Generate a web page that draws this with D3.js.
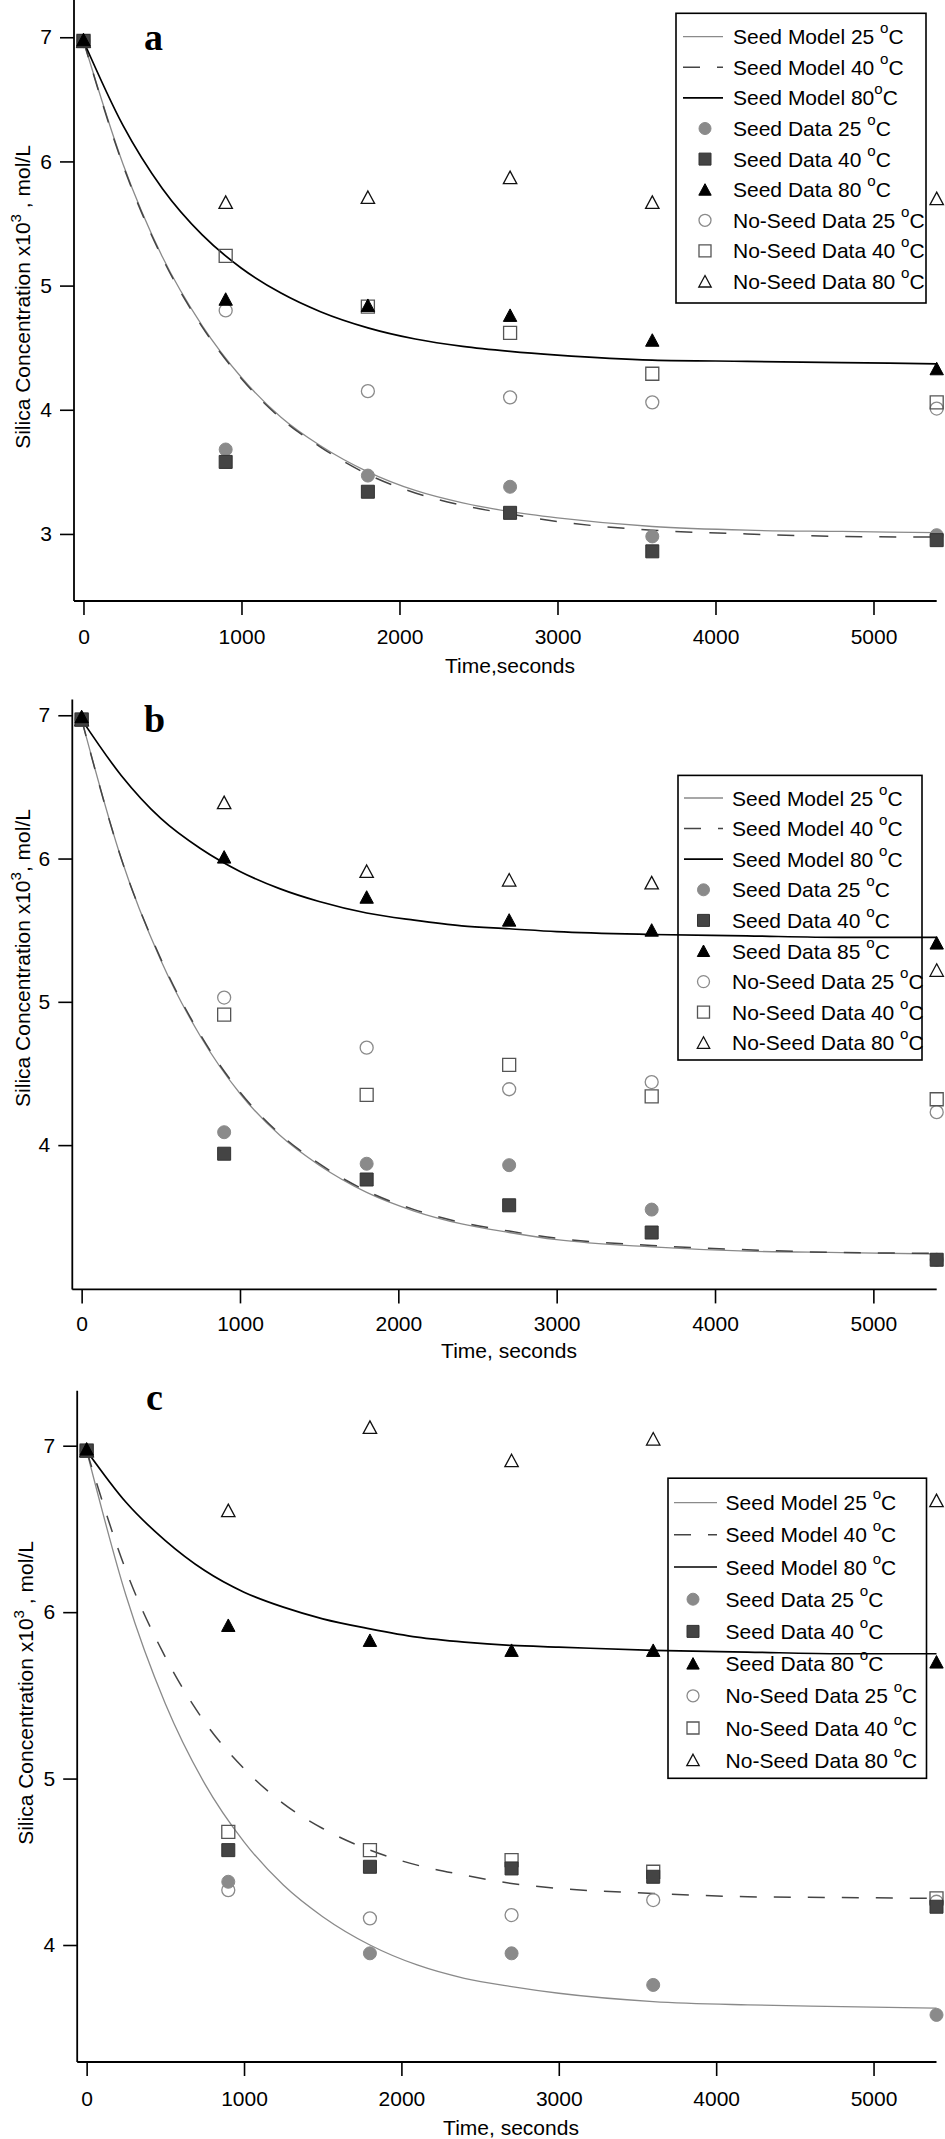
<!DOCTYPE html>
<html>
<head>
<meta charset="utf-8">
<script src="https://cdn.jsdelivr.net/npm/d3@7"></script>
<style>
  html, body { margin: 0; padding: 0; background: #fff; }
  svg { display: block; }
  text { font-family: "Liberation Sans", Arial, sans-serif; fill: #000; white-space: pre; }
</style>
</head>
<body>
<script>
// ---------------- DATA ----------------
const dataTimes  = [0, 900, 1800, 2700, 3600, 5400];
const modelTimes = [0, 250, 500, 750, 1000, 1250, 1500, 1800, 2100, 2400, 2700, 3000, 3600, 4200, 4800, 5400];
const xTicks  = [0, 1000, 2000, 3000, 4000, 5000];
const yTicksA = [3, 4, 5, 6, 7];
const yTicksB = [4, 5, 6, 7];
const yTicksC = [4, 5, 6, 7];

// Panel a
const aModel25  = [6.97, 5.98, 5.23, 4.68, 4.26, 3.94, 3.71, 3.50, 3.35, 3.25, 3.18, 3.13, 3.06, 3.03, 3.02, 3.01];
const aModel40  = [6.97, 5.97, 5.22, 4.67, 4.25, 3.93, 3.70, 3.48, 3.33, 3.23, 3.16, 3.10, 3.03, 3.00, 2.98, 2.975];
const aModel80  = [6.97, 6.29, 5.78, 5.41, 5.14, 4.94, 4.79, 4.66, 4.57, 4.51, 4.47, 4.44, 4.40, 4.39, 4.38, 4.37];
const aSeed25   = [6.97, 3.68, 3.47, 3.38, 2.98, 2.99];
const aSeed40   = [6.97, 3.58, 3.34, 3.17, 2.86, 2.95];
const aSeed80   = [6.98, 4.89, 4.84, 4.76, 4.56, 4.33];
const aNoSeed25 = [6.97, 4.80, 4.15, 4.10, 4.06, 4.01];
const aNoSeed40 = [6.97, 5.24, 4.83, 4.62, 4.29, 4.06];
const aNoSeed80 = [6.97, 5.67, 5.71, 5.87, 5.67, 5.70];

// Panel b
const bModel25  = [6.97, 6.00, 5.29, 4.76, 4.36, 4.07, 3.86, 3.67, 3.54, 3.45, 3.39, 3.34, 3.29, 3.26, 3.25, 3.24];
const bModel40  = [6.97, 6.00, 5.30, 4.77, 4.37, 4.08, 3.87, 3.68, 3.55, 3.46, 3.40, 3.35, 3.30, 3.27, 3.25, 3.245];
const bModel80  = [6.97, 6.58, 6.28, 6.07, 5.91, 5.79, 5.70, 5.62, 5.57, 5.53, 5.51, 5.49, 5.47, 5.46, 5.45, 5.45];
const bSeed25   = [6.97, 4.09, 3.87, 3.86, 3.55, 3.20];
const bSeed40   = [6.97, 3.94, 3.76, 3.58, 3.39, 3.20];
const bSeed85   = [6.99, 6.01, 5.73, 5.57, 5.50, 5.41];
const bNoSeed25 = [6.97, 5.03, 4.68, 4.39, 4.44, 4.23];
const bNoSeed40 = [6.97, 4.91, 4.35, 4.56, 4.34, 4.32];
const bNoSeed80 = [6.97, 6.39, 5.91, 5.85, 5.83, 5.22];

// Panel c
const cModel25  = [6.97, 6.10, 5.45, 4.97, 4.62, 4.36, 4.17, 4.00, 3.88, 3.80, 3.75, 3.71, 3.66, 3.64, 3.63, 3.62];
const cModel40  = [6.97, 6.25, 5.73, 5.34, 5.06, 4.85, 4.70, 4.57, 4.48, 4.42, 4.37, 4.34, 4.31, 4.29, 4.285, 4.28];
const cModel80  = [6.97, 6.66, 6.43, 6.25, 6.12, 6.03, 5.96, 5.90, 5.85, 5.82, 5.80, 5.79, 5.77, 5.76, 5.75, 5.75];
const cSeed25   = [6.97, 4.38, 3.95, 3.95, 3.76, 3.58];
const cSeed40   = [6.97, 4.57, 4.47, 4.46, 4.41, 4.23];
const cSeed80   = [6.98, 5.92, 5.83, 5.77, 5.77, 5.70];
const cNoSeed25 = [6.97, 4.33, 4.16, 4.18, 4.27, 4.26];
const cNoSeed40 = [6.97, 4.68, 4.57, 4.51, 4.44, 4.28];
const cNoSeed80 = [6.97, 6.61, 7.11, 6.91, 7.04, 6.67];

const legendLabelsA = ["Seed Model 25 °C", "Seed Model 40 °C", "Seed Model 80°C", "Seed Data 25 °C", "Seed Data 40 °C", "Seed Data 80 °C", "No-Seed Data 25 °C", "No-Seed Data 40 °C", "No-Seed Data 80 °C"];
const legendLabelsB = ["Seed Model 25 °C", "Seed Model 40 °C", "Seed Model 80 °C", "Seed Data 25 °C", "Seed Data 40 °C", "Seed Data 85 °C", "No-Seed Data 25 °C", "No-Seed Data 40 °C", "No-Seed Data 80 °C"];
const legendLabelsC = ["Seed Model 25 °C", "Seed Model 40 °C", "Seed Model 80 °C", "Seed Data 25 °C", "Seed Data 40 °C", "Seed Data 80 °C", "No-Seed Data 25 °C", "No-Seed Data 40 °C", "No-Seed Data 80 °C"];

// ---------------- STYLES ----------------
const lineStyles = [
  { stroke: "#8a8a8a", width: 1.3, dash: null },
  { stroke: "#444",    width: 1.5, dash: "17,17" },
  { stroke: "#000",    width: 1.7, dash: null }
];
const markerStyles = [
  { shape: "circle",   fill: "#8a8a8a", stroke: "#8a8a8a" },
  { shape: "square",   fill: "#444",    stroke: "#333" },
  { shape: "triangle", fill: "#000",    stroke: "#000" },
  { shape: "circle",   fill: "none",    stroke: "#8a8a8a" },
  { shape: "square",   fill: "none",    stroke: "#555" },
  { shape: "triangle", fill: "none",    stroke: "#111" }
];

const W = 945, H = 2139;
const svg = d3.select("body").append("svg").attr("width", W).attr("height", H);

function markerPath(shape, s) {
  const p = d3.path();
  if (shape === "circle") {
    p.arc(0, 0, s / 2, 0, 2 * Math.PI);
  } else if (shape === "square") {
    p.rect(-s / 2, -s / 2, s, s);
  } else {
    p.moveTo(0, -s / 2);
    p.lineTo(s / 2 + 0.2, s / 2 - 0.5);
    p.lineTo(-s / 2 - 0.2, s / 2 - 0.5);
    p.closePath();
  }
  return p.toString();
}

function drawMarker(g, st, x, y, s) {
  g.append("path")
    .attr("transform", `translate(${x},${y})`)
    .attr("d", markerPath(st.shape, s))
    .attr("fill", st.fill)
    .attr("stroke", st.stroke)
    .attr("stroke-width", st.fill === "none" ? 1.3 : 1);
}

function labelWithDegree(textSel, label, fs) {
  const i = label.indexOf("°");
  textSel.append("tspan").text(label.slice(0, i));
  textSel.append("tspan").attr("font-size", fs * 0.72).attr("dy", -11).text("o");
  textSel.append("tspan").attr("font-size", fs).attr("dy", 11).text(label.slice(i + 1));
}

function drawPanel(cfg) {
  const g = svg.append("g");
  const x = d3.scaleLinear().domain(cfg.xDomain).range([cfg.left, cfg.right]);
  const y = d3.scaleLinear().domain(cfg.yDomain).range([cfg.bottom, cfg.top]);
  const fs = 21;

  // axes
  const yAxis = d3.axisLeft(y).tickValues(cfg.yTicks).tickSize(14).tickPadding(8).tickFormat(d3.format("d"));
  const gy = g.append("g").attr("transform", `translate(${cfg.left},0)`).call(yAxis);
  const xAxis = d3.axisBottom(x).tickValues(xTicks).tickSize(14).tickPadding(cfg.xLabelPad).tickFormat(d3.format("d"));
  const gx = g.append("g").attr("transform", `translate(0,${cfg.bottom})`).call(xAxis);
  [gx, gy].forEach(a => {
    a.select(".domain").remove();
    a.selectAll(".tick line").attr("stroke", "#000").attr("stroke-width", 1.6);
    a.selectAll(".tick text").attr("font-size", fs).attr("font-family", '"Liberation Sans", Arial, sans-serif').attr("fill", "#000");
  });
  // axis lines
  g.append("line").attr("x1", cfg.left).attr("x2", cfg.left).attr("y1", cfg.top).attr("y2", cfg.bottom)
    .attr("stroke", "#000").attr("stroke-width", 1.8);
  g.append("line").attr("x1", cfg.left).attr("x2", cfg.right).attr("y1", cfg.bottom).attr("y2", cfg.bottom)
    .attr("stroke", "#000").attr("stroke-width", 1.8);

  // model lines
  const line = d3.line().x((d, i) => x(modelTimes[i])).y(d => y(d)).curve(d3.curveMonotoneX);
  cfg.models.forEach((m, k) => {
    const st = lineStyles[k];
    g.append("path").attr("d", line(m)).attr("fill", "none")
      .attr("stroke", st.stroke).attr("stroke-width", st.width)
      .attr("stroke-dasharray", st.dash);
  });

  // data markers (no-seed first, seed data on top)
  const order = [3, 4, 5, 0, 1, 2];
  order.forEach(k => {
    const series = cfg.data[k];
    series.forEach((v, i) => drawMarker(g, markerStyles[k], x(dataTimes[i]), y(v), 13));
  });

  // legend
  const L = cfg.legend;
  g.append("rect").attr("x", L.x0).attr("y", L.y0).attr("width", L.x1 - L.x0).attr("height", L.y1 - L.y0)
    .attr("fill", "none").attr("stroke", "#000").attr("stroke-width", 1.6);
  cfg.legendLabels.forEach((lab, i) => {
    const cy = L.row0 + i * L.step;
    if (i < 3) {
      const st = lineStyles[i];
      g.append("line").attr("x1", L.lx0).attr("x2", L.lx1).attr("y1", cy).attr("y2", cy)
        .attr("stroke", st.stroke).attr("stroke-width", st.width).attr("stroke-dasharray", st.dash);
    } else {
      drawMarker(g, markerStyles[i - 3], L.mx, cy, 12);
    }
    const t = g.append("text").attr("x", L.tx).attr("y", cy + 7.5).attr("font-size", fs);
    labelWithDegree(t, lab, fs);
  });

  // axis titles
  g.append("text").attr("x", cfg.xTitleX).attr("y", cfg.xTitleY).attr("text-anchor", "middle")
    .attr("font-size", fs).text(cfg.xTitle);
  const yt = g.append("text").attr("transform", `translate(${cfg.yTitleX},${cfg.yTitleY}) rotate(-90)`)
    .attr("text-anchor", "middle").attr("font-size", fs);
  yt.append("tspan").text("Silica Concentration x10");
  yt.append("tspan").attr("font-size", 15).attr("dy", -9).text("3");
  yt.append("tspan").attr("dy", 9).text(cfg.yTitleTail);

  // panel letter
  g.append("text").attr("x", cfg.letterX).attr("y", cfg.letterY)
    .attr("font-family", '"Liberation Serif", "Times New Roman", serif')
    .style("font-family", '"Liberation Serif", "Times New Roman", serif')
    .attr("font-weight", "bold").attr("font-size", 38).text(cfg.letter);
}

drawPanel({
  left: 74, right: 936.7, top: 0, bottom: 601,
  xDomain: [-60, 5400], yDomain: [2.46, 7.30], yTicks: yTicksA, xLabelPad: 14,
  models: [aModel25, aModel40, aModel80],
  data: [aSeed25, aSeed40, aSeed80, aNoSeed25, aNoSeed40, aNoSeed80],
  legendLabels: legendLabelsA,
  legend: { x0: 676, x1: 926, y0: 13.3, y1: 303, row0: 36.7, step: 30.6, lx0: 683, lx1: 723, mx: 705, tx: 733 },
  xTitle: "Time,seconds", xTitleX: 510, xTitleY: 672.5,
  yTitleX: 30, yTitleY: 297, yTitleTail: " , mol/L",
  letter: "a", letterX: 144, letterY: 50
});

drawPanel({
  left: 72.3, right: 936.7, top: 699.5, bottom: 1289.4,
  xDomain: [-59, 5400], yDomain: [2.993, 7.11], yTicks: yTicksB, xLabelPad: 13,
  models: [bModel25, bModel40, bModel80],
  data: [bSeed25, bSeed40, bSeed85, bNoSeed25, bNoSeed40, bNoSeed80],
  legendLabels: legendLabelsB,
  legend: { x0: 678, x1: 922, y0: 775.4, y1: 1060, row0: 798, step: 30.6, lx0: 684, lx1: 723, mx: 703.5, tx: 732 },
  xTitle: "Time, seconds", xTitleX: 509, xTitleY: 1357.5,
  yTitleX: 30, yTitleY: 958, yTitleTail: ", mol/L",
  letter: "b", letterX: 144, letterY: 732
});

drawPanel({
  left: 77.2, right: 936.5, top: 1390.8, bottom: 2062,
  xDomain: [-60, 5400], yDomain: [3.297, 7.33], yTicks: yTicksC, xLabelPad: 15,
  models: [cModel25, cModel40, cModel80],
  data: [cSeed25, cSeed40, cSeed80, cNoSeed25, cNoSeed40, cNoSeed80],
  legendLabels: legendLabelsC,
  legend: { x0: 668, x1: 926.5, y0: 1478.2, y1: 1778.3, row0: 1502.6, step: 32.2, lx0: 674, lx1: 717, mx: 693, tx: 725.6 },
  xTitle: "Time, seconds", xTitleX: 511, xTitleY: 2135,
  yTitleX: 33, yTitleY: 1693, yTitleTail: " , mol/L",
  letter: "c", letterX: 146, letterY: 1410
});
</script>
</body>
</html>
